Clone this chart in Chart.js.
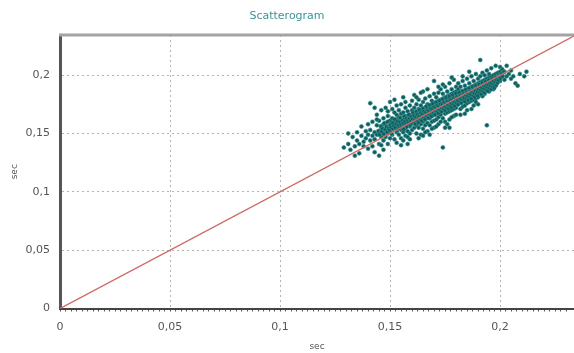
<!DOCTYPE html>
<html>
<head>
<meta charset="utf-8">
<script src="https://cdn.jsdelivr.net/npm/chart.js@4"></script>
<style>
  html, body { margin: 0; padding: 0; background: #fff; }
  canvas { display: block; }
</style>
</head>
<body>
<canvas id="chart" width="574" height="353"></canvas>
<script>
// RR intervals, sec - outer part of the cloud
const rrX = [
  0.129,0.131,0.132,0.133,0.134,0.135,0.135,0.136,0.136,0.137,0.137,0.138,0.138,0.139,0.139,0.140,0.140,0.140,0.131,0.134,
  0.141,0.141,0.141,0.142,0.142,0.142,0.143,0.143,0.143,0.144,0.144,0.144,0.145,0.145,0.145,0.145,0.146,0.146,0.146,0.146,
  0.147,0.147,0.147,0.147,0.148,0.148,0.148,0.148,0.149,0.149,0.149,0.149,0.150,0.150,0.150,0.150,0.143,0.147,0.144,0.149,
  0.151,0.151,0.151,0.151,0.152,0.152,0.152,0.152,0.153,0.153,0.153,0.153,0.153,0.154,0.154,0.154,0.154,0.155,0.155,0.155,
  0.155,0.155,0.156,0.156,0.156,0.156,0.156,0.157,0.157,0.157,0.157,0.157,0.158,0.158,0.158,0.158,0.158,0.159,0.159,0.159,
  0.159,0.159,0.160,0.160,0.160,0.160,0.160,0.152,0.154,0.155,0.157,0.158,0.159,0.153,0.156,
  0.161,0.161,0.161,0.161,0.161,0.162,0.162,0.162,0.162,0.162,0.163,0.163,0.163,0.163,0.163,0.164,0.164,0.164,0.164,0.164,
  0.165,0.165,0.165,0.165,0.165,0.165,0.166,0.166,0.166,0.166,0.166,0.167,0.167,0.167,0.167,0.167,0.168,0.168,0.168,0.168,
  0.168,0.169,0.169,0.169,0.169,0.169,0.170,0.170,0.170,0.170,0.170,0.170,0.163,0.166,0.168,0.170,0.162,0.164,0.167,0.169,0.165,
  0.171,0.171,0.171,0.171,0.171,0.172,0.172,0.172,0.172,0.172,0.172,0.173,0.173,0.173,0.173,0.173,0.174,0.174,0.174,0.174,
  0.174,0.174,0.175,0.175,0.175,0.175,0.175,0.175,0.176,0.176,0.176,0.176,0.176,0.177,0.177,0.177,0.177,0.177,0.177,0.178,
  0.178,0.178,0.178,0.178,0.179,0.179,0.179,0.179,0.179,0.179,0.180,0.180,0.180,0.180,0.180,0.171,0.173,0.176,0.178,0.180,
  0.174,0.172,0.178,0.175,0.177,
  0.181,0.181,0.181,0.181,0.181,0.182,0.182,0.182,0.182,0.182,0.183,0.183,0.183,0.183,0.183,0.184,0.184,0.184,0.184,0.184,
  0.184,0.185,0.185,0.185,0.185,0.185,0.186,0.186,0.186,0.186,0.186,0.187,0.187,0.187,0.187,0.187,0.187,0.188,0.188,0.188,
  0.188,0.188,0.189,0.189,0.189,0.189,0.189,0.190,0.190,0.190,0.190,0.190,0.190,0.182,0.185,0.188,0.191,0.186,0.183,0.189,
  0.191,0.191,0.191,0.191,0.192,0.192,0.192,0.192,0.192,0.193,0.193,0.193,0.193,0.193,0.194,0.194,0.194,0.194,0.194,0.195,
  0.195,0.195,0.195,0.195,0.196,0.196,0.196,0.196,0.197,0.197,0.197,0.197,0.198,0.198,0.198,0.198,0.199,0.199,0.199,0.200,
  0.200,0.200,0.200,
  0.201,0.201,0.202,0.202,0.203,0.203,0.204,0.205,0.205,0.206,0.207,0.208,0.209,0.212,0.211
];
const rrY = [
  0.138,0.141,0.136,0.147,0.139,0.144,0.151,0.141,0.133,0.148,0.156,0.143,0.139,0.152,0.146,0.137,0.158,0.149,0.150,0.131,
  0.144,0.153,0.176,0.148,0.139,0.160,0.151,0.145,0.134,0.157,0.149,0.166,0.141,0.152,0.131,0.161,0.147,0.155,0.170,0.140,
  0.158,0.150,0.163,0.144,0.153,0.147,0.172,0.159,0.150,0.141,0.165,0.156,0.152,0.161,0.146,0.177,0.172,0.136,0.162,0.169,
  0.157,0.149,0.163,0.171,0.155,0.145,0.160,0.179,0.158,0.151,0.166,0.142,0.162,0.156,0.170,0.149,0.161,0.159,0.153,0.167,
  0.175,0.146,0.162,0.157,0.151,0.168,0.181,0.160,0.154,0.165,0.148,0.172,0.163,0.158,0.152,0.169,0.141,0.161,0.156,0.174,
  0.166,0.150,0.164,0.159,0.170,0.153,0.178,0.168,0.164,0.140,0.177,0.147,0.145,0.174,0.144,
  0.166,0.160,0.155,0.172,0.183,0.168,0.163,0.157,0.175,0.150,0.167,0.161,0.171,0.155,0.179,0.169,0.164,0.158,0.174,0.149,
  0.170,0.165,0.160,0.177,0.186,0.154,0.172,0.167,0.162,0.180,0.157,0.171,0.166,0.175,0.159,0.152,0.173,0.168,0.163,0.182,
  0.157,0.174,0.170,0.165,0.178,0.160,0.176,0.171,0.166,0.184,0.161,0.195,0.146,0.151,0.149,0.155,0.181,0.185,0.188,0.154,0.148,
  0.177,0.172,0.167,0.181,0.162,0.178,0.174,0.169,0.185,0.164,0.158,0.179,0.175,0.170,0.188,0.166,0.180,0.176,0.171,0.184,
  0.163,0.138,0.181,0.177,0.172,0.190,0.167,0.160,0.182,0.178,0.173,0.186,0.168,0.183,0.179,0.174,0.193,0.169,0.162,0.184,
  0.180,0.175,0.188,0.170,0.185,0.181,0.176,0.196,0.171,0.165,0.186,0.182,0.177,0.190,0.172,0.156,0.160,0.158,0.164,0.166,
  0.192,0.190,0.198,0.155,0.155,
  0.184,0.180,0.188,0.175,0.193,0.185,0.181,0.177,0.190,0.171,0.186,0.182,0.178,0.195,0.173,0.187,0.183,0.179,0.191,0.174,
  0.167,0.188,0.184,0.180,0.197,0.176,0.189,0.185,0.181,0.193,0.177,0.190,0.186,0.182,0.199,0.178,0.171,0.191,0.187,0.183,
  0.195,0.179,0.192,0.188,0.184,0.201,0.180,0.193,0.189,0.185,0.197,0.181,0.175,0.166,0.170,0.174,0.213,0.203,0.199,0.177,
  0.194,0.190,0.186,0.199,0.195,0.191,0.187,0.202,0.182,0.196,0.192,0.188,0.200,0.184,0.197,0.193,0.189,0.204,0.157,0.198,
  0.194,0.190,0.201,0.186,0.199,0.195,0.191,0.206,0.200,0.196,0.192,0.188,0.201,0.197,0.193,0.208,0.202,0.198,0.194,0.203,
  0.199,0.195,0.207,
  0.200,0.205,0.196,0.203,0.199,0.208,0.201,0.197,0.204,0.199,0.193,0.191,0.201,0.203,0.199
];

// dense core of the cloud
const coreX = [
  0.1447,0.1452,0.1458,0.1461,0.1466,0.1471,0.1474,0.1478,0.1483,0.1486,0.1489,0.1493,0.1497,0.1501,0.1504,0.1507,
  0.1511,0.1513,0.1517,0.1521,0.1524,0.1527,0.1531,0.1534,0.1537,0.1541,0.1544,0.1546,0.1549,0.1553,0.1556,0.1559,
  0.1562,0.1564,0.1567,0.1571,0.1573,0.1576,0.1579,0.1582,0.1585,0.1588,0.1591,0.1594,0.1597,0.1599,0.1602,0.1604,
  0.1607,0.1609,0.1612,0.1614,0.1617,0.1619,0.1622,0.1624,0.1627,0.1629,0.1632,0.1634,0.1637,0.1639,0.1642,0.1644,
  0.1647,0.1649,0.1652,0.1654,0.1657,0.1659,0.1662,0.1664,0.1667,0.1669,0.1672,0.1674,0.1677,0.1679,0.1682,0.1684,
  0.1687,0.1689,0.1692,0.1694,0.1697,0.1699,0.1702,0.1704,0.1707,0.1709,0.1712,0.1714,0.1717,0.1719,0.1722,0.1724,
  0.1727,0.1729,0.1732,0.1734,0.1737,0.1739,0.1742,0.1744,0.1747,0.1749,0.1752,0.1754,0.1757,0.1759,0.1762,0.1764,
  0.1767,0.1769,0.1772,0.1774,0.1777,0.1779,0.1782,0.1784,0.1787,0.1789,0.1792,0.1794,0.1797,0.1799,0.1802,0.1804,
  0.1807,0.1809,0.1812,0.1814,0.1817,0.1819,0.1822,0.1824,0.1827,0.1829,0.1832,0.1834,0.1837,0.1839,0.1842,0.1844,
  0.1847,0.1849,0.1852,0.1854,0.1857,0.1859,0.1862,0.1864,0.1867,0.1869,0.1872,0.1874,0.1877,0.1879,0.1882,0.1884,
  0.1887,0.1889,0.1892,0.1894,0.1897,0.1899,0.1902,0.1904,0.1907,0.1909,0.1912,0.1914,0.1917,0.1919,0.1922,0.1924,
  0.1927,0.1929,0.1932,0.1934,0.1937,0.1939,0.1942,0.1944,0.1947,0.1949,0.1952,0.1954,0.1957,0.1959,0.1962,0.1964,
  0.1967,0.1969,0.1972,0.1974,0.1977,0.1979,0.1982,0.1984,0.1987,0.1992,0.1996,0.2001,0.2006,0.2011,0.2017
];
const coreY = [
  0.1521,0.1489,0.1563,0.1517,0.1542,0.1496,0.1588,0.1534,0.1557,0.1512,0.1601,0.1546,0.1529,0.1574,0.1551,0.1498,
  0.1592,0.1538,0.1566,0.1621,0.1549,0.1583,0.1527,0.1604,0.1568,0.1541,0.1597,0.1635,0.1576,0.1552,0.1611,0.1589,
  0.1537,0.1648,0.1603,0.1574,0.1626,0.1558,0.1612,0.1591,0.1661,0.1628,0.1569,0.1607,0.1643,0.1586,0.1624,0.1677,
  0.1599,0.1652,0.1617,0.1581,0.1639,0.1688,0.1611,0.1663,0.1632,0.1594,0.1651,0.1702,0.1623,0.1676,0.1645,0.1609,
  0.1668,0.1715,0.1638,0.1689,0.1657,0.1621,0.1681,0.1731,0.1649,0.1702,0.1671,0.1633,0.1694,0.1744,0.1662,0.1715,
  0.1683,0.1648,0.1707,0.1756,0.1674,0.1728,0.1695,0.1661,0.1721,0.1768,0.1688,0.1741,0.1708,0.1674,0.1734,0.1781,
  0.1699,0.1753,0.1721,0.1687,0.1746,0.1794,0.1712,0.1766,0.1733,0.1699,0.1759,0.1806,0.1724,0.1778,0.1746,0.1712,
  0.1771,0.1818,0.1737,0.1791,0.1758,0.1724,0.1784,0.1829,0.1749,0.1803,0.1771,0.1737,0.1796,0.1842,0.1762,0.1815,
  0.1783,0.1749,0.1808,0.1853,0.1774,0.1827,0.1796,0.1762,0.1821,0.1865,0.1787,0.1839,0.1808,0.1774,0.1833,0.1877,
  0.1799,0.1851,0.1821,0.1787,0.1845,0.1888,0.1812,0.1863,0.1833,0.1799,0.1857,0.1899,0.1824,0.1875,0.1846,0.1812,
  0.1869,0.1911,0.1837,0.1887,0.1858,0.1824,0.1881,0.1922,0.1849,0.1899,0.1871,0.1837,0.1893,0.1934,0.1862,0.1911,
  0.1883,0.1851,0.1906,0.1945,0.1874,0.1923,0.1896,0.1864,0.1918,0.1957,0.1887,0.1935,0.1908,0.1878,0.1931,0.1968,
  0.1899,0.1947,0.1921,0.1891,0.1943,0.1979,0.1912,0.1959,0.1933,0.1955,0.1991,0.1972,0.2012,0.1988,0.2026
];

// line of identity
const identityLine = [0, 0.25];

// axes
const xMax = 0.2336;
const yMax = 0.2344;
const majorTicks = [0, 0.05, 0.1, 0.15, 0.2];
const tickLabels = ['0', '0,05', '0,1', '0,15', '0,2'];

const fontFamily = '"DejaVu Sans", Verdana, sans-serif';

function majorIndex(v) {
    return majorTicks.findIndex(m => Math.abs(m - v) < 1e-6);
}

// top frame line
const frameTop = {
    id: 'frameTop',
    afterDraw(chart) {
        const { ctx, chartArea } = chart;
        ctx.save();
        ctx.strokeStyle = '#a3a3a3';
        ctx.lineWidth = 3;
        ctx.beginPath();
        ctx.moveTo(chartArea.left - 1, chartArea.top);
        ctx.lineTo(chartArea.right, chartArea.top);
        ctx.stroke();
        ctx.restore();
    }
};

const allX = rrX.concat(coreX);
const allY = rrY.concat(coreY);

new Chart(document.getElementById('chart'), {
    type: 'scatter',
    data: {
        datasets: [
            {
                type: 'line',
                order: 0,
                data: identityLine.map(v => ({ x: v, y: v })),
                borderColor: '#cf6b66',
                borderWidth: 1.4,
                pointRadius: 0
            },
            {
                order: 1,
                data: allX.map((x, i) => ({ x: x, y: allY[i] })),
                backgroundColor: '#0f5d5d',
                borderColor: '#3a9393',
                borderWidth: 0.6,
                pointRadius: 2
            }
        ]
    },
    options: {
        responsive: false,
        animation: false,
        layout: { padding: 0, autoPadding: false },
        plugins: {
            legend: { display: false },
            tooltip: { enabled: false },
            title: {
                display: true,
                text: 'Scatterogram',
                color: '#3a9494',
                font: { family: fontFamily, size: 11, weight: 'normal' },
                padding: { top: 10, bottom: 11.8 }
            }
        },
        scales: {
            x: {
                type: 'linear',
                min: 0,
                max: xMax,
                afterFit: s => { s.height = 44.5; s.paddingLeft = 0; s.paddingRight = 0; },
                ticks: {
                    stepSize: 0.0025,
                    autoSkip: false,
                    maxRotation: 0,
                    padding: 9,
                    color: '#555',
                    font: { family: fontFamily, size: 11 },
                    callback: v => { const i = majorIndex(v); return i < 0 ? '' : tickLabels[i]; }
                },
                grid: {
                    color: c => majorIndex(c.tick.value) < 0 ? 'transparent' : '#b3b3b3',
                    tickColor: '#555',
                    tickLength: 3,
                    lineWidth: 1
                },
                border: { color: '#444', width: 2, dash: [2, 3] },
                title: {
                    display: true,
                    text: 'sec',
                    color: '#555',
                    font: { family: fontFamily, size: 9 },
                    padding: { top: 0, bottom: 1 }
                }
            },
            y: {
                type: 'linear',
                min: 0,
                max: yMax,
                afterFit: s => { s.width = 60; },
                ticks: {
                    stepSize: 0.05,
                    padding: 10,
                    color: '#555',
                    font: { family: fontFamily, size: 11 },
                    callback: v => { const i = majorIndex(v); return i < 0 ? '' : tickLabels[i]; }
                },
                grid: {
                    color: '#b3b3b3',
                    drawTicks: false,
                    lineWidth: 1
                },
                border: { color: '#555', width: 3, dash: [2, 3] },
                title: {
                    display: true,
                    text: 'sec',
                    color: '#555',
                    font: { family: fontFamily, size: 9 },
                    padding: { top: 9.6, bottom: 0 }
                }
            }
        }
    },
    plugins: [frameTop]
});
</script>
</body>
</html>
